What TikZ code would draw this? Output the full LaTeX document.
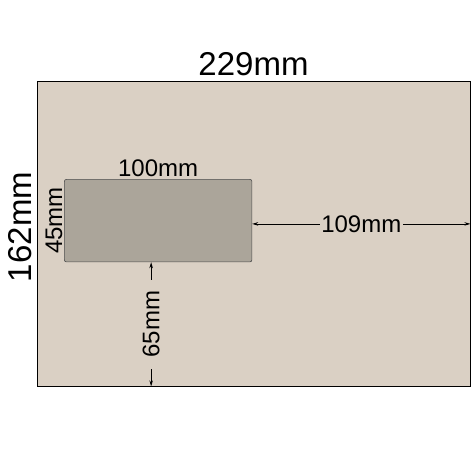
\documentclass[tikz,border=0pt]{standalone}
\usepackage{fontspec}
\setmainfont{Liberation Sans}
\usepackage{tikz}
\usetikzlibrary{arrows, arrows.meta}
\usetikzlibrary{positioning}
\definecolor{paper}{RGB}{218,208,196}
\definecolor{glass}{RGB}{171,165,154}
\tikzset{
  dimarrow/.style={
    line width=0.8pt,
    {Stealth[length=6pt,width=3.5pt]}-{Stealth[length=6pt,width=3.5pt]}
  },
  bigtext/.style={font=\fontsize{33}{36}\selectfont},
  smalltext/.style={font=\fontsize{24}{26}\selectfont}
}

\begin{document}
\begin{tikzpicture}[x=1pt, y=-1pt]

\useasboundingbox (0,0) rectangle (475,459);

% Envelope
\node [draw,
    fill=paper,
    line width=0.8pt,
    inner sep=0,
    minimum width=433pt,
    minimum height=305pt
] (env) at (253.5,233.5) {};

% Window
\node [draw=black!70,
    fill=glass,
    line width=0.6pt,
    rounded corners=2pt,
    inner sep=0,
    minimum width=187.5pt,
    minimum height=82.5pt,
    below right=98.5pt and 27.5pt of env.north west
] (win) {};

% Envelope sizes
\node [bigtext, inner sep=0, above=5pt of env.north] (wlabel) {229mm};
\node [bigtext, inner sep=0, rotate=90, anchor=south]
    (hlabel) at ([xshift=-5pt, yshift=6.5pt]env.west) {162mm};

% Window sizes
\node [smalltext, inner sep=0, above=2pt of win.north] (llabel) {100mm};
\node [smalltext, inner sep=0, rotate=90, anchor=south]
    (dlabel) at ([xshift=-1.5pt]win.west) {45mm};

% Distances to the edges
\coordinate (r1) at ([yshift=-3.25pt]win.east);
\draw[dimarrow] (r1) -- (r1 -| env.east)
    node[midway, fill=paper, inner sep=1.5pt, smalltext] (rlabel) {109mm};

\coordinate (b1) at ([xshift=-7pt]win.south);
\draw[dimarrow] (b1) -- (b1 |- env.south)
    node[midway, rotate=90, fill=paper, inner xsep=11pt, inner ysep=1pt, smalltext] (blabel) {65mm};

\end{tikzpicture}
\end{document}
